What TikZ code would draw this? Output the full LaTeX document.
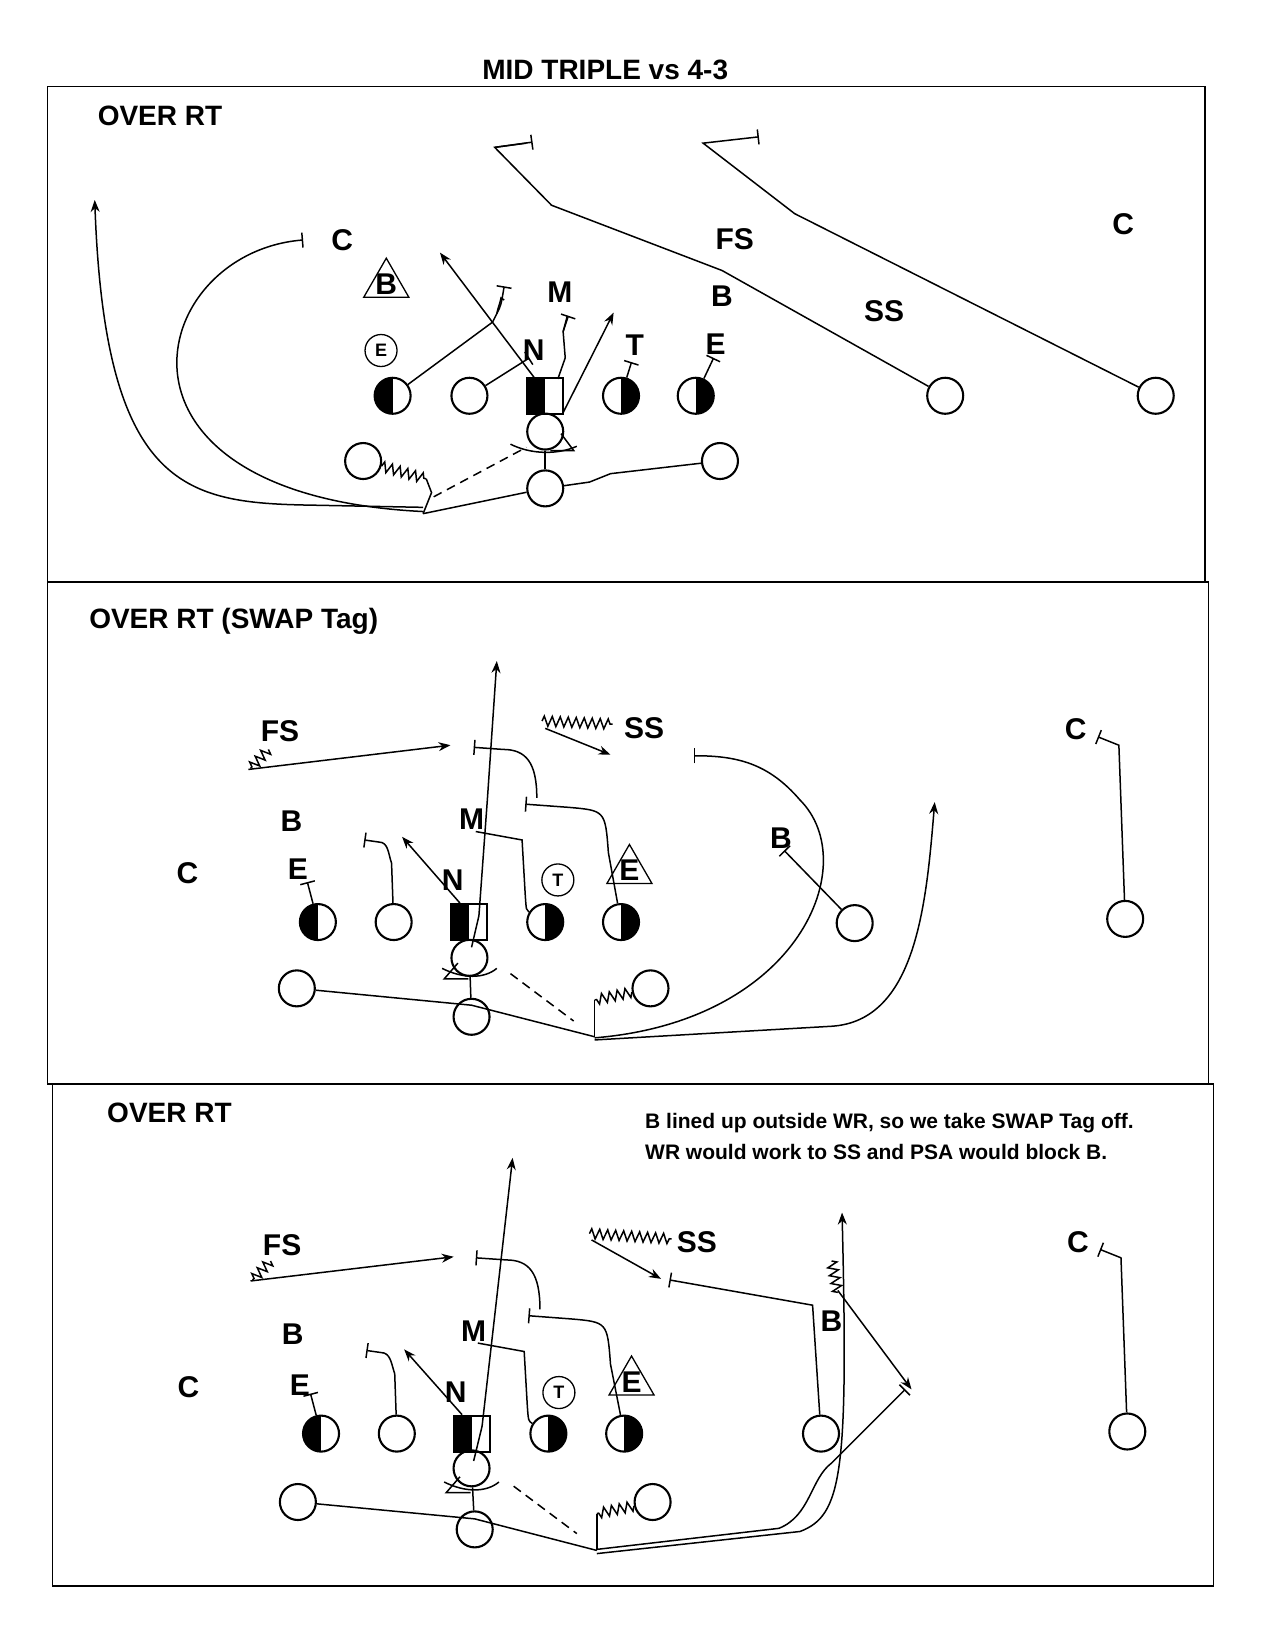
\documentclass[tikz,border=0pt]{standalone}
\usepackage{fontspec}
\setmainfont{Liberation Sans}
\usetikzlibrary{decorations.pathmorphing,arrows.meta,shapes.geometric}
\begin{document}
\begin{tikzpicture}[x=1.0526pt,y=-1.0526pt,line width=1.7pt,
 pl/.style={circle,draw,minimum size=36pt,inner sep=0pt,line width=2.1pt},
 halfL/.style={pl,path picture={\fill (path picture bounding box.south west) rectangle (path picture bounding box.north);}},
 halfR/.style={pl,path picture={\fill (path picture bounding box.south east) rectangle (path picture bounding box.north);}},
 ctr/.style={draw,minimum size=36pt,inner sep=0pt,line width=2.1pt,path picture={\fill (path picture bounding box.south west) rectangle (path picture bounding box.north);}},
 lab/.style={font=\bfseries\fontsize{30}{32}\selectfont,inner sep=1pt},
 ttl/.style={font=\bfseries\fontsize{28}{32}\selectfont,inner sep=0pt},
 circ/.style={lab,circle,draw,line width=1.3pt,font=\bfseries\fontsize{18}{20}\selectfont,minimum size=32pt},
 tri/.style={lab,regular polygon,regular polygon sides=3,draw,line width=1.3pt,inner sep=-2pt,minimum size=52pt},
 arr/.style={-{Stealth[length=12pt,width=9pt]}},
 blk/.style={-{Bar[width=15pt]}},
 zz/.style={decorate,decoration={zigzag,segment length=8pt,amplitude=5pt}},
 rt/.style={line width=1.5pt},
 dsh/.style={dash pattern=on 9pt off 6pt}]
\useasboundingbox (0,0) rectangle (1211.3,1567.6);
\fill[white] (0,0) rectangle (1211.3,1567.6);
\node[ttl] (title) at (575,66) {MID TRIPLE vs 4-3};
\draw[line width=1.6pt] (45,82) rectangle (1145,553);
\draw[line width=1.6pt] (45,553) rectangle (1148,1030);
\draw[line width=1.6pt] (50,1030) rectangle (1153,1507);
% ===== Panel 1
\node[ttl] (t1) at (152,110) {OVER RT};
\node[halfL] (a1) at (373,376) {};
\node[pl] (a2) at (446,376) {};
\node[ctr] (a3) at (518,376) {};
\node[halfR] (a4) at (590,376) {};
\node[halfR] (a5) at (661,376) {};
\node[pl] (aw1) at (898,376) {};
\node[pl] (aw2) at (1098,376) {};
\node[pl] (aq) at (518,410) {};
\node[pl] (ab1) at (345,438) {};
\node[pl] (ab2) at (684,438) {};
\node[pl] (af) at (518,464) {};
\node[lab] (dC1) at (325,228) {C};
\node[tri] (dB1) at (367,270) {B};
\node[lab] (dM1) at (532,278) {M};
\node[circ] (dE1) at (362,333) {E};
\node[lab] (dN1) at (507,333) {N};
\node[lab] (dT1) at (603,328) {T};
\node[lab] (dE2) at (680,327) {E};
\node[lab] (dFS1) at (698,227) {FS};
\node[lab] (dB2) at (686,281) {B};
\node[lab] (dSS1) at (840,296) {SS};
\node[lab] (dC2) at (1067,213) {C};
\coordinate (k1) at (402,488);
\draw[rt] (a1) -- (468,306) -- (472,298) to[out=80,in=260] (476,283) -- (479,285);
\draw[rt,blk] (472,298) .. controls (476,290) .. (479,272);
\draw[rt,blk] (a2) -- (503,340);
\draw[rt,arr] (510,362) -- (418,240);
\draw[rt,arr] (535,392) -- (583,297);
\draw[rt] (530,360) -- (537,340) -- (535,315) -- (539,300);
\draw[rt,blk] (535,315) -- (540,300);
\draw[rt,blk] (a4) -- (600,344);
\draw[rt,blk] (a5) -- (678,340);
\draw[rt] (aw1) -- (686,257) -- (524,195) -- (470,140) -- (500,136);
\draw[rt,blk] (470,140) -- (506,135);
\draw[rt,blk] (aw2) -- (755,203) -- (668,136) -- (721,130);
\draw[rt] (aq) -- (af);
\draw[rt,zz] (ab1) -- (405,455);
\draw[rt] (405,455) -- (410,468) -- (402,488);
\draw[rt,dsh] (412,472) -- (500,425);
\draw[rt] (k1) -- (af) -- (560,458) -- (580,450) -- (ab2);
\draw[rt,arr] (402,482) -- (300,480) .. controls (180,478) and (100,470) .. (90,190);
\draw[rt,blk] (402,486) .. controls (80,470) and (140,240) .. (288,228);
\draw[rt] (485,422) .. controls (505,432) and (530,432) .. (548,424);
\draw[rt] (533,412) -- (545,428) -- (523,428);
% ===== Panel 2
\node[ttl] (t2) at (222,590) {OVER RT (SWAP Tag)};
\node[halfL] (b1) at (302,876) {};
\node[pl] (b2) at (374,876) {};
\node[ctr] (b3) at (446,876) {};
\node[halfR] (b4) at (518,876) {};
\node[halfR] (b5) at (590,876) {};
\node[pl] (bw1) at (812,877) {};
\node[pl] (bw2) at (1069,873) {};
\node[pl] (bq) at (446,910) {};
\node[pl] (bb1) at (282,939) {};
\node[pl] (bb2) at (618,939) {};
\node[pl] (bf) at (448,966) {};
\node[lab] (eFS) at (266,695) {FS};
\node[lab] (eSS) at (612,692) {SS};
\node[lab] (eC1) at (1022,693) {C};
\node[lab] (eB1) at (277,780) {B};
\node[lab] (eM) at (448,778) {M};
\node[lab] (eC2) at (178,830) {C};
\node[lab] (eE1) at (283,826) {E};
\node[lab] (eN) at (430,836) {N};
\node[circ] (eT) at (530,836) {T};
\node[tri] (eE2) at (598,827) {E};
\node[lab] (eB2) at (742,796) {B};
\draw[rt,zz] (255,712) -- (238,730);
\draw[rt,arr] (236,731) -- (428,708);
\draw[rt,zz] (515,685) -- (582,688);
\draw[rt,arr] (518,692) -- (580,717);
\draw[rt,arr] (448,900) -- (455,870) -- (463,760) -- (472,628);
\draw[rt,blk] (b2) -- (372,820) to[out=110,in=0] (360,800) -- (346,798);
\draw[rt,arr] (437,858) -- (382,795);
\draw[rt] (452,790) -- (496,798) -- (499,850) .. controls (500,865) .. (b4);
\draw[rt,blk] (b5) -- (578,810) .. controls (575,770) .. (540,767) -- (499,764);
\draw[rt,blk] (510,758) .. controls (510,725) and (500,712) .. (478,712) -- (450,710);
\draw[rt,blk] (bw1) -- (745,808);
\draw[rt,blk] (bw2) -- (1063,708) -- (1043,700);
\draw[rt,blk] (b1) -- (292,838);
\draw[rt] (bq) -- (bf);
\draw[rt] (bb1) -- (448,955) -- (565,985);
\draw[rt,zz] (bb2) -- (565,950);
\draw[rt] (565,950) -- (565,985);
\draw[rt,dsh] (485,925) -- (545,970);
\draw[rt,arr] (565,988) -- (790,975) .. controls (870,970) and (880,860) .. (888,762);
\draw[rt,blk] (565,986) .. controls (760,970) and (820,820) .. (760,760) .. controls (730,725) and (700,718) .. (659,718);
\draw[rt] (420,920) .. controls (440,930) and (460,930) .. (472,920);
\draw[rt] (435,915) -- (422,930) -- (445,930);
% ===== Panel 3
\node[ttl] (t3) at (161,1057) {OVER RT};
\node[align=left,font=\bfseries\fontsize{21}{31}\selectfont] (note) at (845,1080) {B lined up outside WR, so we take SWAP Tag off.\\WR would work to SS and PSA would block B.};
\node[halfL] (c1) at (305,1362) {};
\node[pl] (c2) at (377,1362) {};
\node[ctr] (c3) at (448,1362) {};
\node[halfR] (c4) at (521,1362) {};
\node[halfR] (c5) at (593,1362) {};
\node[pl] (cw1) at (780,1362) {};
\node[pl] (cw2) at (1071,1360) {};
\node[pl] (cq) at (448,1395) {};
\node[pl] (cb1) at (283,1427) {};
\node[pl] (cb2) at (620,1427) {};
\node[pl] (cf) at (451,1453) {};
\node[lab] (fFS) at (268,1183) {FS};
\node[lab] (fSS) at (662,1180) {SS};
\node[lab] (fC1) at (1024,1180) {C};
\node[lab] (fB1) at (278,1268) {B};
\node[lab] (fM) at (450,1265) {M};
\node[lab] (fC2) at (179,1318) {C};
\node[lab] (fE1) at (285,1316) {E};
\node[lab] (fN) at (433,1323) {N};
\node[circ] (fT) at (531,1323) {T};
\node[tri] (fE2) at (600,1313) {E};
\node[lab] (fB2) at (790,1255) {B};
\draw[rt,zz] (257,1198) -- (240,1216);
\draw[rt,arr] (238,1217) -- (431,1194);
\draw[rt,zz] (560,1172) -- (638,1177);
\draw[rt,arr] (562,1178) -- (628,1215);
\draw[rt,arr] (450,1388) -- (458,1355) -- (470,1250) -- (487,1100);
\draw[rt,blk] (c2) -- (375,1305) to[out=110,in=0] (362,1285) -- (348,1283);
\draw[rt,arr] (439,1344) -- (384,1282);
\draw[rt] (454,1276) -- (498,1284) -- (501,1336) .. controls (502,1350) .. (c4);
\draw[rt,blk] (c5) -- (580,1296) .. controls (577,1256) .. (542,1253) -- (502,1250);
\draw[rt,blk] (513,1244) .. controls (513,1210) and (503,1197) .. (481,1197) -- (452,1195);
\draw[rt,blk] (cw1) -- (772,1240) -- (636,1216);
\draw[rt,zz] (790,1198) -- (796,1228);
\draw[rt,arr] (796,1226) -- (866,1320);
\draw[rt,blk] (cw2) -- (1065,1195) -- (1045,1187);
\draw[rt,blk] (c1) -- (295,1324);
\draw[rt] (cq) -- (cf);
\draw[rt] (cb1) -- (451,1443) -- (567,1473);
\draw[rt,zz] (cb2) -- (567,1438);
\draw[rt] (567,1438) -- (567,1473);
\draw[rt,dsh] (488,1412) -- (548,1457);
\draw[rt,arr] (567,1476) -- (760,1455) .. controls (800,1440) and (806,1400) .. (800,1152);
\draw[rt,blk] (567,1472) -- (740,1452) .. controls (770,1440) and (770,1405) .. (790,1390) -- (860,1320);
\draw[rt] (422,1408) .. controls (442,1418) and (462,1418) .. (474,1408);
\draw[rt] (437,1403) -- (424,1418) -- (447,1418);
\end{tikzpicture}
\end{document}
